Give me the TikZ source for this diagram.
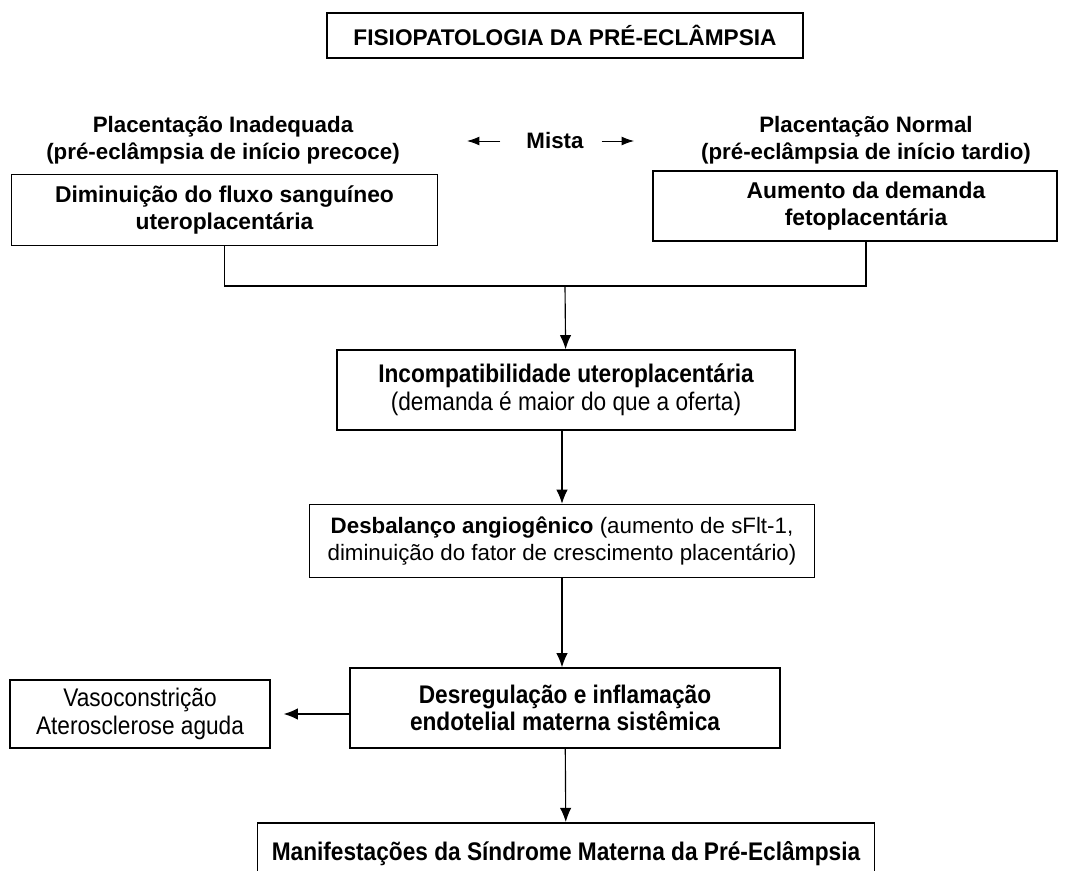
\documentclass[tikz,border=0pt]{standalone}
\usepackage{fontspec}
\setmainfont{Liberation Sans}
\newfontfamily\narrowfont[FakeStretch=0.89]{Liberation Sans}
\usepackage{tikz}
\usetikzlibrary{
  arrows.meta,
  positioning
}

\begin{document}
\begin{tikzpicture}[
  x=0.02cm, y=-0.02cm,
  font=\fontsize{12.7pt}{15.4pt}\selectfont,
  box/.style={draw, line width=0.85pt, align=center, inner sep=0pt},
  boldbox/.style={box, font=\fontsize{13pt}{15.6pt}\selectfont\bfseries},
  label/.style={align=center, font=\fontsize{12.7pt}{15.4pt}\selectfont\bfseries},
  arrow/.style={-{Latex[length=8pt,width=6.5pt]}, line width=0.65pt},
  narrow/.style={font=\fontsize{14.5pt}{15.8pt}\narrowfont}
]
  \useasboundingbox (0,0) rectangle (1067,871);

  % Title
  \node[box, minimum width=476*0.02cm, minimum height=45*0.02cm, font=\fontsize{12.9pt}{14pt}\selectfont\bfseries] (title) at (565,35.5) {FISIOPATOLOGIA DA PRÉ-ECLÂMPSIA};

  % Two kinds of placentation
  \node[label] (inad) at (223,140) {Placentação Inadequada\\(pré-eclâmpsia de início precoce)};
  \node[label] (normal) at (866,140) {Placentação Normal\\(pré-eclâmpsia de início tardio)};
  \node[label] (mista) at (555,141) {Mista};
  \coordinate (mistaL) at (467,141);
  \coordinate (mistaR) at (634,141);
  \draw[arrow, line width=0.5pt, -{Latex[length=7pt,width=5pt]}] (mista.west) ++(-20,0) -- (mistaL);
  \draw[arrow, line width=0.5pt, -{Latex[length=7pt,width=5pt]}] (mista.east) ++(12,0) -- (mistaR);

  \node[boldbox, minimum width=426*0.02cm, minimum height=71*0.02cm] (lbox) at (224.5,210) {Diminuição do fluxo sanguíneo\\uteroplacentária};
  \node[boldbox, minimum width=404*0.02cm, minimum height=70*0.02cm] (rbox) at (855,206) {\hspace*{0.44cm}Aumento da demanda\\\hspace*{0.44cm}fetoplacentária};

  % Joining the two paths
  \coordinate (join) at (565,286);
  \coordinate (rjoin) at (866,286);
  \draw[line width=0.65pt] (lbox.south) |- (rjoin) -- (rjoin |- rbox.south);

  % Main chain
  \node[box, narrow, minimum width=458*0.02cm, minimum height=80*0.02cm] (incomp) at (566,390) {{\bfseries Incompatibilidade uteroplacentária}\\(demanda é maior do que a oferta)};
  \draw[arrow] (join) -- (incomp);

  \node[box, minimum width=505*0.02cm, minimum height=73*0.02cm] (desbal) at (562,541) {{\bfseries Desbalanço angiogênico} (aumento de sFlt-1,\\diminuição do fator de crescimento placentário)};
  \draw[arrow] (incomp.south -| desbal) -- (desbal);

  \node[box, narrow, minimum width=430*0.02cm, minimum height=80*0.02cm, font=\fontsize{14.5pt}{15.8pt}\narrowfont\bfseries] (desreg) at (565,708) {Desregulação e inflamação\\endotelial materna sistêmica};
  \draw[arrow] (desbal) -- (desbal.south |- desreg.north);

  \node[box, narrow, minimum width=260*0.02cm, minimum height=68*0.02cm] (vaso) at (140,714) {Vasoconstrição\\Aterosclerose aguda};
  \draw[arrow] (desreg.west |- vaso) -- ([xshift=13*0.02cm]vaso.east);

  \node[box, minimum width=617*0.02cm, minimum height=70*0.02cm, anchor=north, font=\fontsize{14.5pt}{15.8pt}\narrowfont\bfseries, text depth=0pt] (manif) at (566,822) {\raisebox{8pt}{Manifestações da Síndrome Materna da Pré-Eclâmpsia}};
  \draw[arrow] (desreg) -- (manif);
\end{tikzpicture}
\end{document}
